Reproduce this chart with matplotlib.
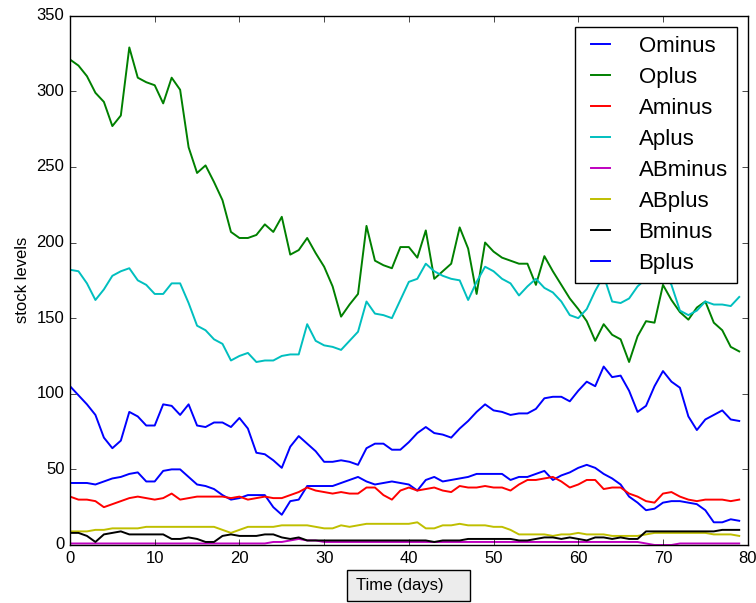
import numpy as np
import matplotlib
matplotlib.use("Agg")
import matplotlib.pyplot as plt

days = np.arange(80)

# daily stock levels per blood group
Ominus = [41, 41, 41, 40, 42, 44, 45, 47, 48, 42,
          42, 49, 50, 50, 45, 40, 39, 37, 33, 30,
          31, 33, 33, 33, 25, 20, 29, 30, 39, 39,
          39, 39, 41, 43, 45, 42, 40, 41, 42, 41,
          40, 36, 43, 45, 42, 43, 44, 45, 47, 47,
          47, 47, 43, 45, 45, 47, 49, 43, 46, 48,
          51, 53, 51, 47, 44, 40, 32, 28, 23, 24,
          28, 29, 29, 28, 27, 23, 15, 15, 17, 16]
Oplus = [321, 317, 310, 299, 293, 277, 284, 329, 309, 306,
         304, 292, 309, 301, 263, 246, 251, 240, 228, 207,
         203, 203, 205, 212, 207, 217, 192, 195, 203, 193,
         184, 171, 151, 159, 166, 211, 188, 185, 183, 197,
         197, 190, 208, 176, 181, 186, 210, 196, 166, 200,
         194, 190, 188, 186, 186, 172, 191, 181, 172, 163,
         156, 148, 135, 146, 139, 136, 121, 138, 148, 147,
         172, 162, 154, 149, 157, 161, 147, 142, 131, 128]
Aminus = [32, 30, 30, 29, 25, 27, 29, 31, 32, 31,
          30, 31, 34, 30, 31, 32, 32, 32, 32, 31,
          32, 30, 31, 32, 31, 31, 33, 35, 38, 36,
          35, 34, 35, 34, 34, 38, 38, 33, 30, 36,
          38, 36, 37, 38, 36, 35, 39, 38, 38, 39,
          38, 38, 36, 40, 43, 43, 44, 45, 42, 38,
          40, 43, 43, 37, 38, 38, 34, 32, 29, 28,
          34, 35, 32, 30, 29, 30, 30, 30, 29, 30]
Aplus = [182, 181, 173, 162, 169, 178, 181, 183, 175, 172,
         166, 166, 173, 173, 160, 145, 142, 136, 133, 122,
         125, 127, 121, 122, 122, 125, 126, 126, 146, 135,
         132, 131, 129, 135, 141, 161, 153, 152, 150, 162,
         174, 176, 186, 181, 178, 176, 175, 162, 174, 184,
         181, 176, 173, 165, 171, 176, 170, 167, 161, 152,
         150, 156, 168, 178, 161, 160, 163, 171, 176, 175,
         182, 172, 155, 152, 155, 161, 159, 159, 158, 164]
ABminus = [1, 1, 1, 1, 1, 1, 1, 1, 1, 1,
           1, 1, 1, 1, 1, 1, 1, 1, 1, 1,
           1, 1, 1, 1, 2, 2, 3, 4, 3, 3,
           2, 2, 2, 2, 2, 2, 2, 2, 2, 2,
           2, 2, 2, 2, 2, 2, 2, 2, 2, 2,
           2, 2, 2, 2, 2, 2, 2, 2, 2, 2,
           2, 2, 2, 2, 2, 2, 2, 2, 1, 0,
           0, 0, 1, 1, 1, 1, 1, 1, 1, 1]
ABplus = [9, 9, 9, 10, 10, 11, 11, 11, 11, 12,
          12, 12, 12, 12, 12, 12, 12, 12, 10, 8,
          10, 12, 12, 12, 12, 13, 13, 13, 13, 12,
          11, 11, 13, 12, 13, 14, 14, 14, 14, 14,
          14, 15, 11, 11, 13, 13, 14, 13, 13, 13,
          12, 12, 10, 7, 7, 7, 7, 6, 7, 7,
          8, 7, 7, 7, 6, 6, 6, 6, 7, 8,
          8, 8, 8, 8, 8, 8, 7, 7, 7, 6]
Bminus = [8, 8, 6, 2, 7, 8, 9, 7, 7, 7,
          7, 7, 4, 4, 5, 4, 2, 2, 6, 7,
          6, 6, 6, 7, 7, 5, 4, 5, 3, 3,
          3, 3, 3, 3, 3, 3, 3, 3, 3, 3,
          3, 3, 3, 2, 3, 3, 3, 4, 4, 4,
          4, 4, 4, 3, 3, 4, 5, 5, 4, 5,
          4, 3, 5, 5, 4, 5, 4, 4, 9, 9,
          9, 9, 9, 9, 9, 9, 9, 10, 10, 10]
Bplus = [105, 99, 93, 86, 71, 64, 69, 88, 85, 79,
         79, 93, 92, 86, 93, 79, 78, 81, 81, 78,
         84, 77, 61, 60, 56, 51, 65, 72, 67, 62,
         55, 55, 56, 55, 53, 64, 67, 67, 63, 63,
         68, 74, 78, 74, 73, 71, 77, 82, 88, 93,
         89, 88, 86, 87, 87, 90, 97, 98, 98, 95,
         102, 108, 105, 118, 111, 112, 102, 88, 92, 105,
         115, 108, 104, 85, 76, 83, 86, 89, 83, 82]

groups = ["Ominus", "Oplus", "Aminus", "Aplus",
          "ABminus", "ABplus", "Bminus", "Bplus"]
series = [Ominus, Oplus, Aminus, Aplus, ABminus, ABplus, Bminus, Bplus]

plt.style.use("classic")
plt.rcParams["font.family"] = ["Liberation Sans", "DejaVu Sans"]

fig, ax = plt.subplots(figsize=(7.56, 6.03), dpi=100)
fig.subplots_adjust(left=0.0926, right=0.989, bottom=0.0962, top=0.974)

for name, vals in zip(groups, series):
    ax.plot(days, vals, label=name, lw=1.4)

ax.set_xlim(0, 80)
ax.set_ylim(0, 350)
ax.set_ylabel("stock levels", fontsize=12)
ax.set_xlabel("Time (days)    ", fontsize=12, labelpad=9,
              bbox=dict(facecolor="#ececec", edgecolor="black",
                        boxstyle="square,pad=0.5"))
ax.legend(loc="upper right", fontsize=16, handlelength=1.45,
          handletextpad=1.0, labelspacing=0.45)

fig.savefig("out.png", dpi=100)
